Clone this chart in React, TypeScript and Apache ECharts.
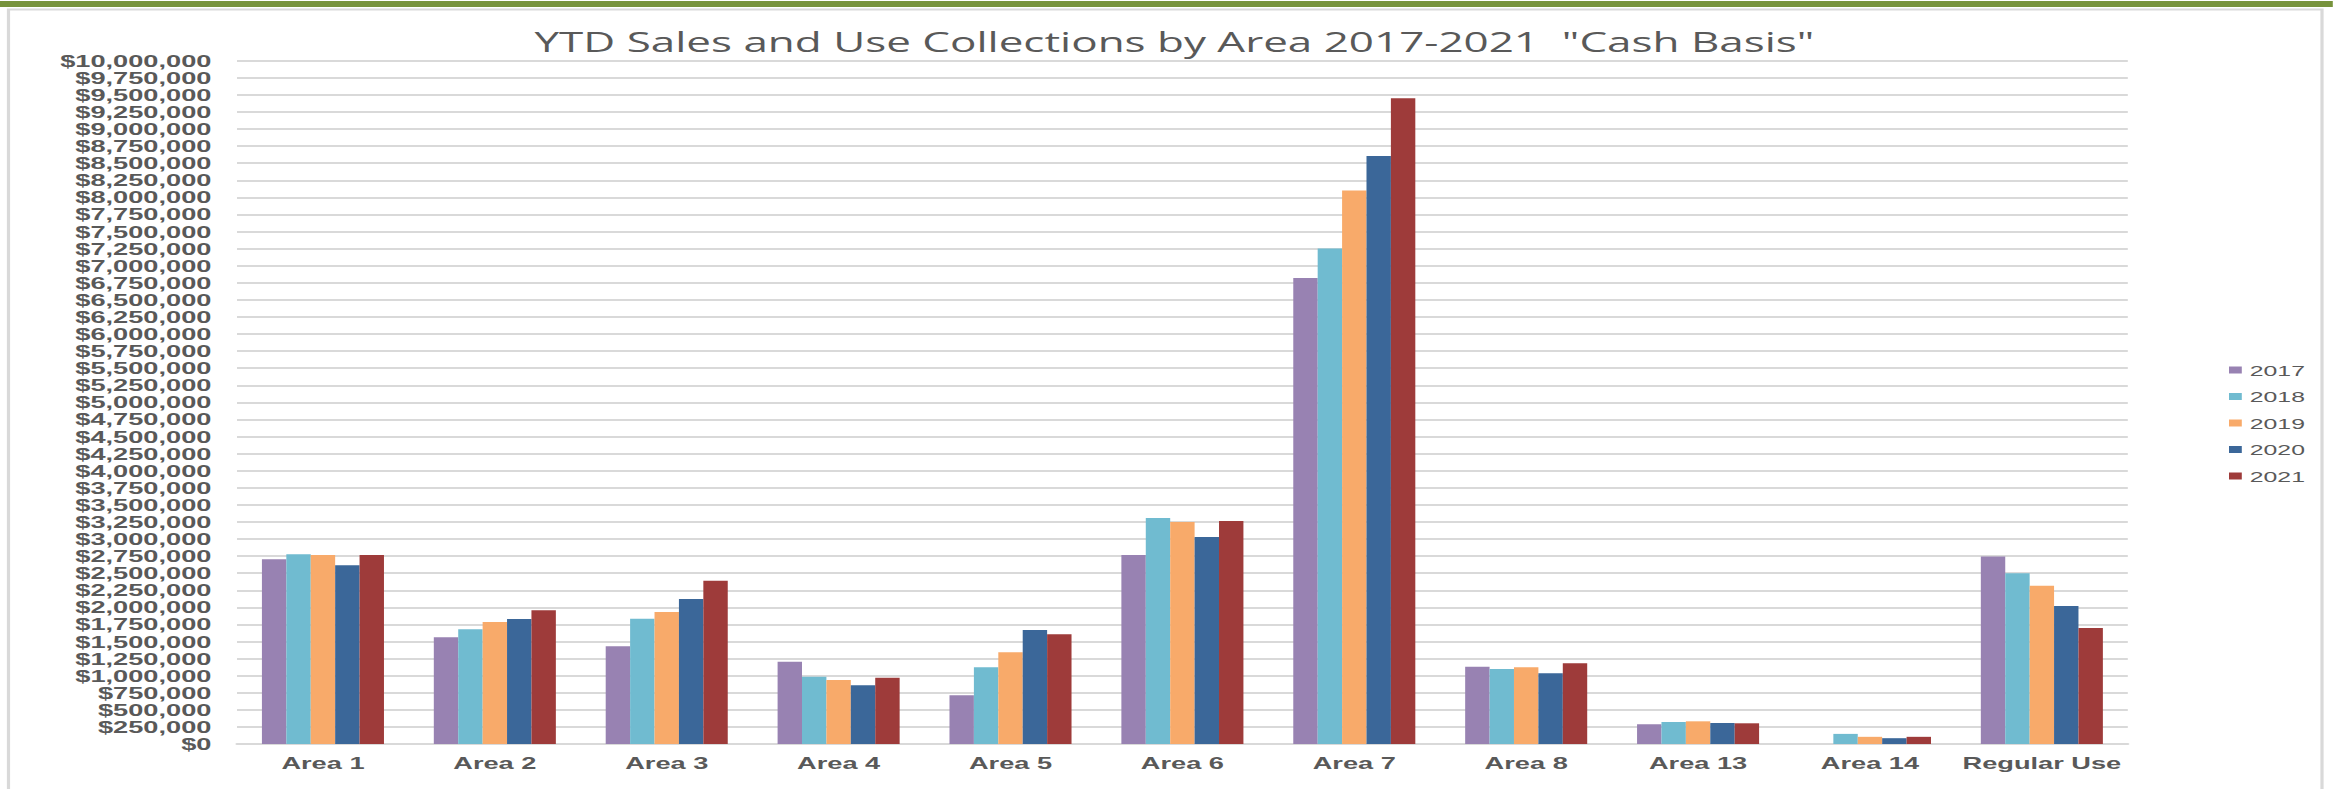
import React, { useEffect, useRef } from "react";
import * as echarts from "echarts";

const categories = ["Area 1", "Area 2", "Area 3", "Area 4", "Area 5", "Area 6", "Area 7", "Area 8", "Area 13", "Area 14", "Regular Use"];
const years = ["2017", "2018", "2019", "2020", "2021"];
const sales2017 = [2703000, 1561000, 1430000, 1205000, 712000, 2766000, 6820000, 1131000, 288000, 0, 2744000];
const sales2018 = [2776000, 1678000, 1834000, 985000, 1122000, 3308000, 7250000, 1098000, 322000, 148000, 2498000];
const sales2019 = [2766000, 1785000, 1932000, 937000, 1342000, 3249000, 8100000, 1122000, 332000, 105000, 2317000];
const sales2020 = [2615000, 1829000, 2122000, 859000, 1668000, 3031000, 8606000, 1034000, 307000, 85000, 2020000];
const sales2021 = [2766000, 1956000, 2390000, 971000, 1605000, 3264000, 9452000, 1181000, 303000, 105000, 1698000];
const seriesValues = [sales2017, sales2018, sales2019, sales2020, sales2021];
const colors = ["#9882b2", "#70bbd0", "#f8aa6a", "#3b6799", "#9e3b3a"];
const titleText = 'YTD Sales and Use Collections by Area 2017-2021  "Cash Basis"';

const STRETCH = 1.6;
const FULL_W = 2333;
const H = 789;
const W = FULL_W / STRETCH;

const FONT = "'Liberation Sans', Arial, sans-serif";
const GRAY = "#595959";

export default function App() {
  const ref = useRef<HTMLDivElement>(null);

  useEffect(() => {
    if (!ref.current) return;
    const chart = echarts.init(ref.current, null, { renderer: "svg" });
    chart.setOption({
      animation: false,
      backgroundColor: "#ffffff",
      color: colors,
      title: {
        text: titleText,
        left: 729,
        textAlign: "center",
        top: 22,
        textStyle: { fontFamily: "'Open Sans', sans-serif", fontSize: 27.5, fontWeight: "normal", color: GRAY },
      },
      legend: {
        orient: "vertical",
        left: 2221 / STRETCH,
        top: 357,
        itemWidth: 8,
        itemHeight: 7,
        itemGap: 10.5,
        icon: "rect",
        data: years,
        textStyle: { fontFamily: FONT, fontSize: 15.5, color: GRAY },
      },
      grid: {
        left: 237 / STRETCH,
        right: W - 2128 / STRETCH,
        top: 60.7,
        bottom: H - 744,
        containLabel: false,
      },
      xAxis: {
        type: "category",
        data: categories,
        axisTick: { show: false },
        axisLine: { lineStyle: { color: "#d9d9d9", width: 2 } },
        axisLabel: { interval: 0, fontFamily: FONT, fontSize: 17, fontWeight: "bold", color: GRAY, margin: 11 },
      },
      yAxis: {
        type: "value",
        min: 0,
        max: 10000000,
        interval: 250000,
        axisLine: { show: false },
        axisTick: { show: false },
        splitLine: { lineStyle: { color: "#d9d9d9", width: 2 } },
        axisLabel: {
          fontFamily: FONT,
          fontSize: 17,
          fontWeight: "bold",
          color: GRAY,
          margin: 16,
          formatter: (v: number) => "$" + v.toLocaleString("en-US"),
        },
      },
      graphic: [
        { type: "rect", left: 0, top: 1, shape: { width: W, height: 6 }, style: { fill: "#77933c" }, silent: true },
        {
          type: "rect",
          shape: { x: 8.5 / STRETCH, y: 9.5, width: (2322 - 8.5) / STRETCH, height: 800 },
          style: { fill: "none", stroke: "#d9d9d9", lineWidth: 2 },
          silent: true,
        },
      ],
      series: years.map((y, i) => ({
        name: y,
        type: "bar",
        data: seriesValues[i],
        barGap: "0%",
        barCategoryGap: "29%",
        itemStyle: { color: colors[i] },
      })),
    });
    return () => chart.dispose();
  }, []);

  return (
    <div
      ref={ref}
      style={{
        position: "fixed",
        left: 0,
        top: 0,
        width: W + "px",
        height: H + "px",
        transform: `scaleX(${STRETCH})`,
        transformOrigin: "0 0",
      }}
    />
  );
}
